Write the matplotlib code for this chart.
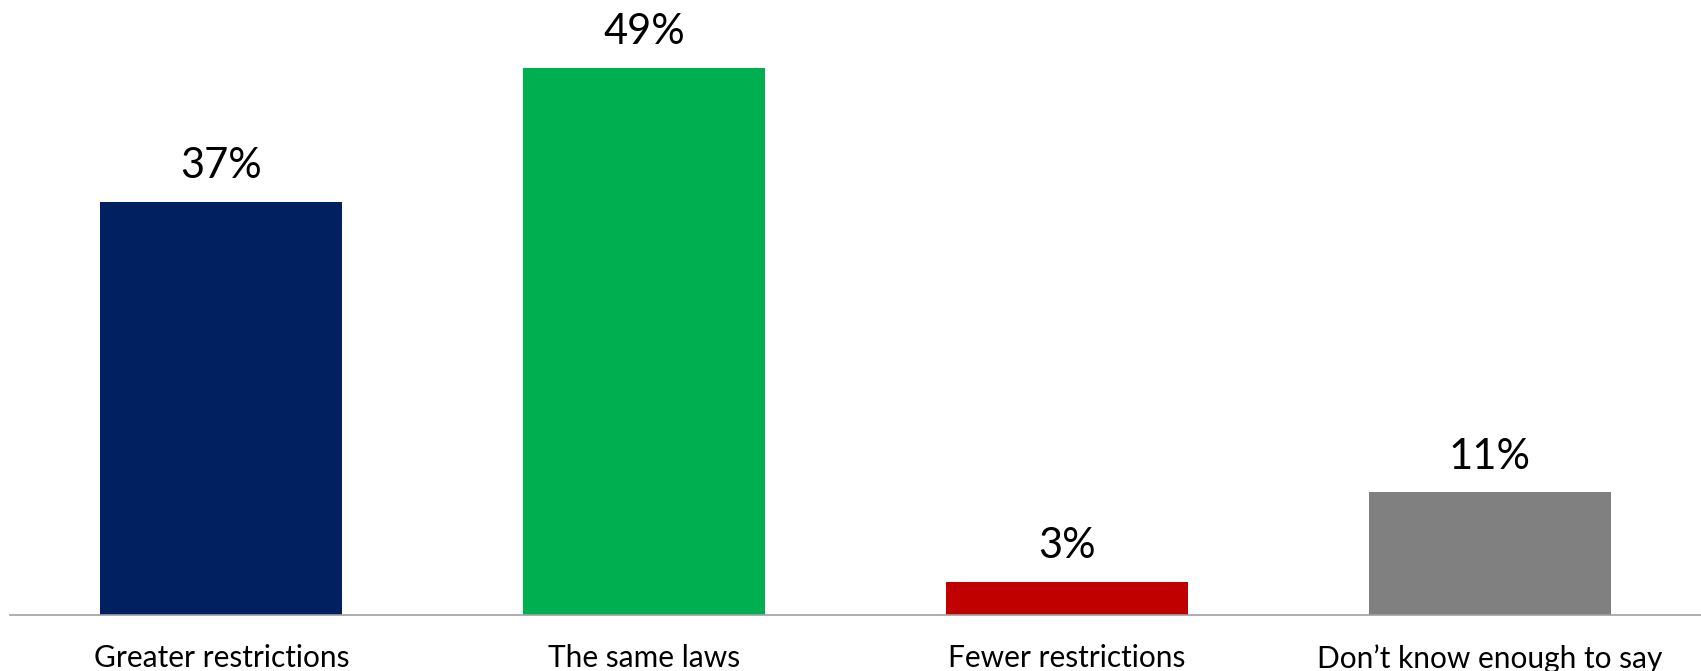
import numpy as np
import matplotlib
matplotlib.use("Agg")
import matplotlib.pyplot as plt

categories = ["Greater restrictions", "The same laws", "Fewer restrictions", "Don\u2019t know enough to say"]
values = [37, 49, 3, 11]
colors = ["#002060", "#00B050", "#C00000", "#808080"]

plt.rcParams["font.family"] = ["Lato", "DejaVu Sans"]

W, H, DPI = 1701, 671, 100
fig = plt.figure(figsize = (W / DPI, H / DPI), dpi = DPI)
ax = fig.add_axes([10 / W, 56 / H, 1 - 10 / W, 1 - 56 / H])

x = np.arange(len(categories))
bars = ax.bar(x, values, width = 0.573, color = colors)

for b, v in zip(bars, values):
  ax.annotate("%d%%" % v, (b.get_x() + b.get_width() / 2, v),
              xytext = (0, 17), textcoords = "offset points",
              ha = "center", va = "baseline", fontsize = 30, color = "black")

ax.set_xlim(-0.5, len(categories) - 0.5)
ax.set_ylim(0, 55.1)
ax.set_xticks(x)
ax.set_xticklabels(categories, fontsize = 21.5, color = "black")
ax.tick_params(axis = "x", length = 0, pad = 21)
ax.set_yticks([])
for s in ("top", "left", "right"):
  ax.spines[s].set_visible(False)
ax.spines["bottom"].set_color("#A0A0A0")
ax.spines["bottom"].set_linewidth(1.2)

fig.savefig("out.png", dpi = DPI)
